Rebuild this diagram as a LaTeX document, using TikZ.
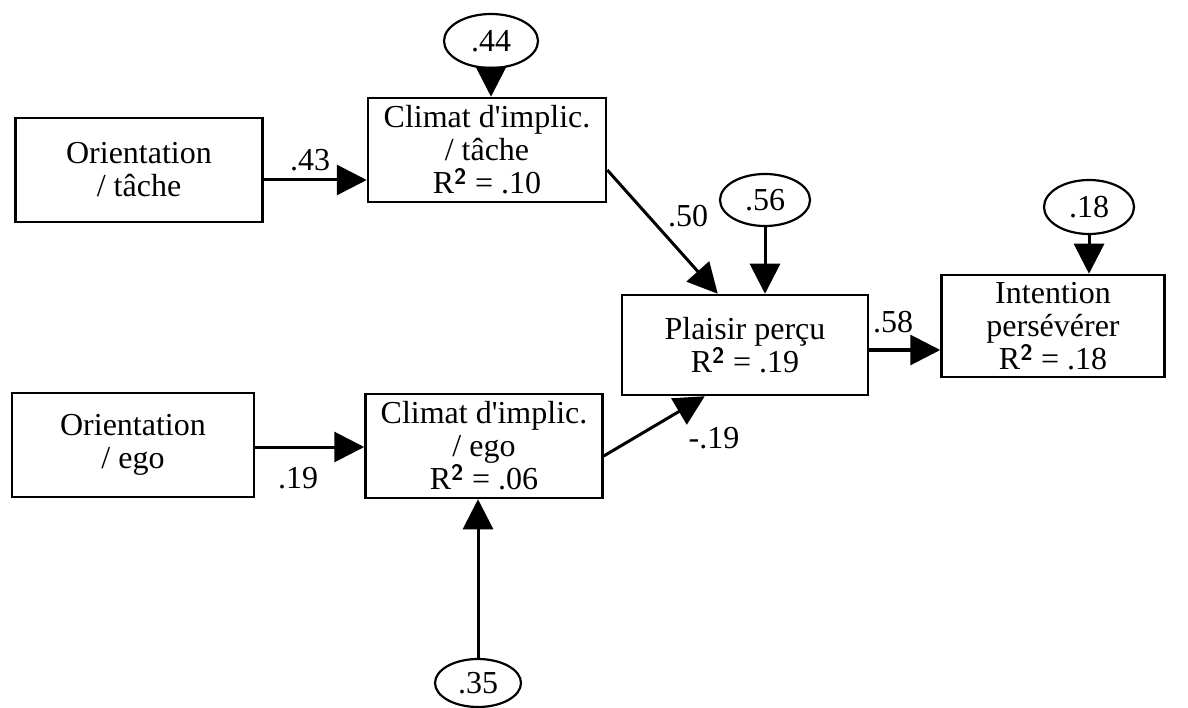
\documentclass[tikz,border=0pt]{standalone}
\usepackage{fontspec}
\setmainfont{Liberation Serif}
\usetikzlibrary{arrows.meta,shapes.geometric}
\begin{document}
\begin{tikzpicture}[x=1pt,y=-1pt,
  box/.style={draw,line width=2.5pt,rectangle,align=center,inner sep=0pt,font=\fontsize{32}{33}\selectfont},
  err/.style={draw,line width=2.2pt,ellipse,inner sep=0pt,font=\fontsize{32}{33}\selectfont},
  arr/.style={line width=3pt,-{Triangle[length=30pt,width=30pt]}},
  lab/.style={font=\fontsize{32}{33}\selectfont,inner sep=0pt}]
\useasboundingbox (0,0) rectangle (1188,708);
\node[box,minimum width=247pt,minimum height=104pt] (ot) at (139,170) {Orientation\\/ tâche};
\node[box,minimum width=238pt,minimum height=104pt] (ct) at (487,150) {Climat d\textquotesingle implic.\\/ tâche\\R\textsuperscript{\textbf{\sffamily 2}} = .10};
\node[err,minimum width=94pt,minimum height=54pt] (e44) at (491,41) {.44};
\node[box,minimum width=246pt,minimum height=100pt] (pp) at (745,345) {Plaisir perçu\\R\textsuperscript{\textbf{\sffamily 2}} = .19};
\node[err,minimum width=90pt,minimum height=52pt] (e56) at (765,200) {.56};
\node[box,minimum width=223pt,minimum height=102pt] (ip) at (1053,326) {Intention\\persévérer\\R\textsuperscript{\textbf{\sffamily 2}} = .18};
\node[err,minimum width=90pt,minimum height=54pt] (e18) at (1089,207) {.18};
\node[box,minimum width=242pt,minimum height=104pt] (oe) at (133,445) {Orientation\\/ ego};
\node[box,minimum width=237pt,minimum height=104pt] (ce) at (484,446) {Climat d\textquotesingle implic.\\/ ego\\R\textsuperscript{\textbf{\sffamily 2}} = .06};
\node[err,minimum width=86pt,minimum height=48pt] (e35) at (478,683) {.35};
\draw[arr] ([yshift=-10pt]ot.east) -- ([yshift=-10pt]ot.east -| ct.west);
\node[lab] (l43) at (310,160) {.43};
\draw[arr] (e44.south) -- (e44.south |- ct.north);
\draw[arr] ([yshift=-20pt]ct.east) -- ([xshift=97pt]pp.north west);
\node[lab] (l50) at (688,216) {.50};
\draw[arr] (e56.south) -- (e56.south |- pp.north);
\draw[arr] ([yshift=-5pt]pp.east) -- ([yshift=-5pt]pp.east -| ip.west);
\node[lab] (l58) at (893,322) {.58};
\draw[arr] (e18.south) -- (e18.south |- ip.north);
\draw[arr] ([yshift=-2pt]oe.east) -- ([yshift=-2pt]oe.east -| ce.west);
\node[lab] (l19) at (298,478) {.19};
\draw[arr] (e35.north) -- (e35.north |- ce.south);
\draw[arr] ([yshift=-10pt]ce.east) -- ([xshift=84pt]pp.south west);
\node[lab] (lm19) at (714,438) {-.19};
\end{tikzpicture}
\end{document}
